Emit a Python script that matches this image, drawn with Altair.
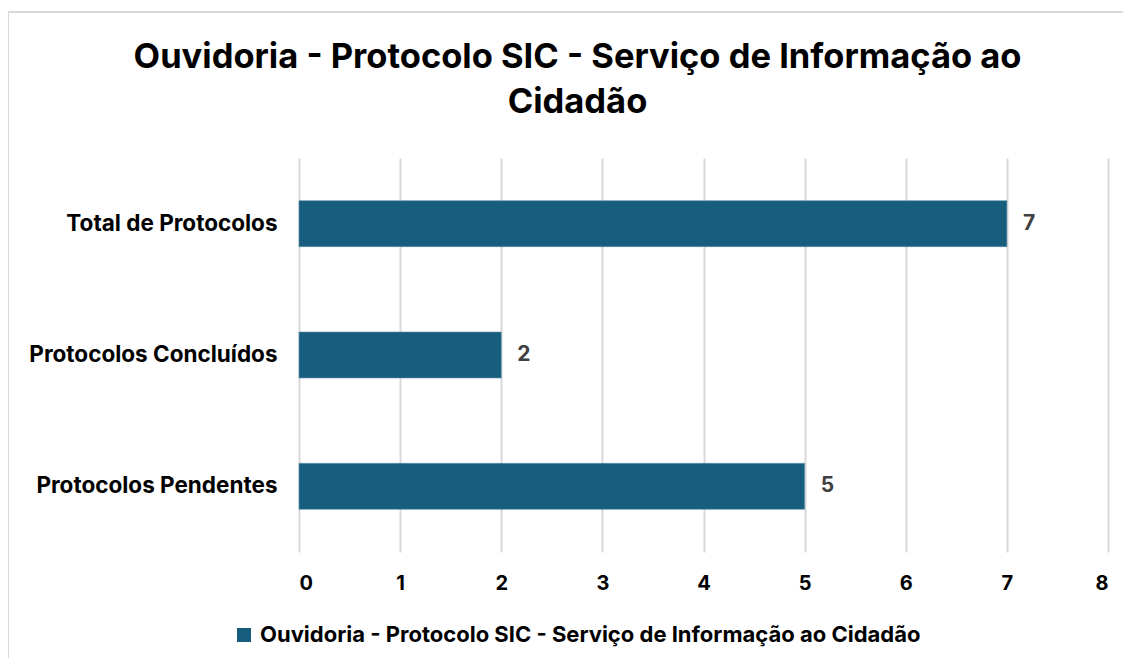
import altair as alt
import pandas as pd

categorias = ["Total de Protocolos", "Protocolos Concluídos", "Protocolos Pendentes"]
valores = [7, 2, 5]
serie = "Ouvidoria - Protocolo SIC - Serviço de Informação ao Cidadão"
titulo = ["Ouvidoria - Protocolo SIC - Serviço de Informação ao", "Cidadão"]
ticks_x = [0, 1, 2, 3, 4, 5, 6, 7, 8]

df = pd.DataFrame({"categoria": categorias, "valor": valores, "serie": [serie] * len(categorias)})

FONT = "Inter"
BAR = "#175E7E"

y_enc = alt.Y(
    "categoria:N", sort=categorias, title=None,
    scale=alt.Scale(paddingInner=0.65, paddingOuter=0.325),
    axis=alt.Axis(labelFont=FONT, labelFontSize=22.5, labelFontWeight="bold", labelColor="#000000",
                  labelPadding=22, ticks=False, domain=False, grid=False, labelLimit=400),
)
x_enc = alt.X(
    "valor:Q", title=None, scale=alt.Scale(domain=[0, 8], nice=False),
    axis=alt.Axis(values=ticks_x, labelFont=FONT, labelFontSize=20, labelFontWeight="bold",
                  labelColor="#000000", labelPadding=21, ticks=False, domain=False,
                  grid=True, gridColor="#d9d9d9", gridWidth=2, format="d"),
)

bars = alt.Chart(df).mark_bar(stroke="#5a8fa8", strokeWidth=0.6).encode(
    y=y_enc, x=x_enc,
    color=alt.Color("serie:N", scale=alt.Scale(range=[BAR]), title=None,
                    legend=alt.Legend(orient="none", legendX=-66, legendY=466, symbolType="square",
                                      symbolSize=196, symbolStrokeWidth=0, labelFont=FONT,
                                      labelFontSize=22, labelFontWeight="bold", labelColor="#000000",
                                      labelLimit=1000, labelOffset=5)),
)

labels = alt.Chart(df).mark_text(align="left", baseline="middle", dx=16, font=FONT, fontSize=21,
                                 fontWeight="bold", color="#404040").encode(
    y=alt.Y("categoria:N", sort=categorias), x=alt.X("valor:Q"), text=alt.Text("valor:Q")
)

frame = alt.Chart(df).mark_rect(fill=None, stroke="#d9d9d9", strokeWidth=2).encode(
    x=alt.value(-291), x2=alt.value(840), y=alt.value(-146), y2=alt.value(520)
)

chart = alt.layer(frame, bars, labels).properties(
    width=809, height=394,
    title=alt.TitleParams(titulo, font=FONT, fontSize=34.5, fontWeight="bold", color="#000000",
                          anchor="middle", dx=-126, offset=-109, lineHeight=45),
    autosize=alt.AutoSizeParams(type="none"),
    padding={"left": 291, "top": 150, "right": 15, "bottom": 106},
).configure(background="#ffffff").configure_view(stroke=None)

chart.save("out.html", embed_options={"renderer": "svg", "actions": False})
